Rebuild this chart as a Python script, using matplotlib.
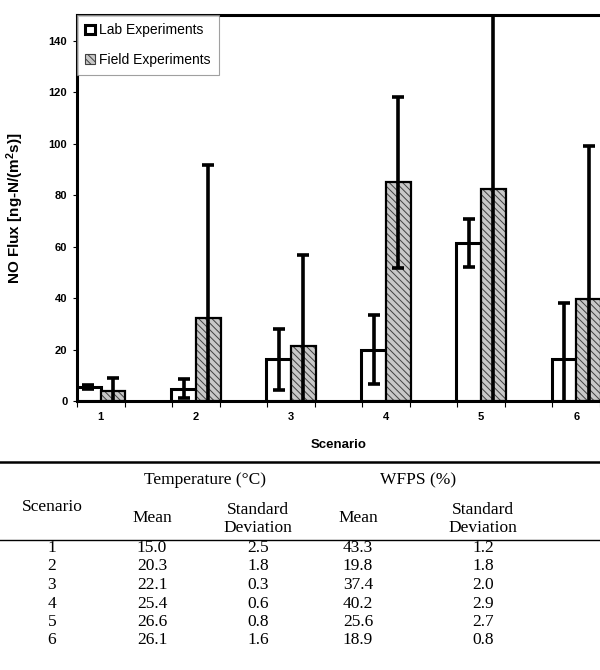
"""NO flux by scenario (lab vs field) with the scenario condition table below."""

import matplotlib
matplotlib.use("Agg")
import matplotlib.pyplot as plt
import numpy as np
from matplotlib.patches import Patch

# bar chart data
scenarios = [1, 2, 3, 4, 5, 6]
lab_flux = [5.3, 4.8, 16.2, 20.0, 61.4, 16.3]
lab_err = [0.8, 3.7, 11.9, 13.3, 9.5, 21.6]
field_flux = [4.0, 32.3, 21.4, 85.0, 82.2, 39.8]
field_err = [5.0, 59.4, 35.2, 33.2, 85.0, 59.2]

# table data
temp_mean = [15.0, 20.3, 22.1, 25.4, 26.6, 26.1]
temp_sd = [2.5, 1.8, 0.3, 0.6, 0.8, 1.6]
wfps_mean = [43.3, 19.8, 37.4, 40.2, 25.6, 18.9]
wfps_sd = [1.2, 1.8, 2.0, 2.9, 2.7, 0.8]

SANS = "Liberation Sans"
SERIF = "Liberation Serif"
FIELD_FILL = "#c8c8c8"
HATCH_COL = "#404040"

plt.rcParams.update({
    "font.family": SANS,
    "mathtext.fontset": "custom",
    "mathtext.bf": "Liberation Sans:bold",
    "mathtext.rm": "Liberation Sans",
    "hatch.linewidth": 0.7,
})

W, H = 600, 670
fig = plt.figure(figsize=(W / 100, H / 100), dpi=100)

# ---- chart ----
ax = fig.add_axes([77 / W, 1 - 401 / H, (W - 77) / W, (401 - 15) / H])
x = np.array(scenarios)
w = 0.26

ax.bar(x - w / 2, lab_flux, w, color="white", edgecolor="black", linewidth=2.2, zorder=2)
ax.bar(x + w / 2, field_flux, w, color=FIELD_FILL, edgecolor=HATCH_COL,
       hatch="\\\\\\\\\\", linewidth=0, zorder=2)
ax.bar(x + w / 2, field_flux, w, fill=False, edgecolor="black", linewidth=1.6, zorder=2)

ax.errorbar(x - w / 2, lab_flux, yerr=lab_err, fmt="none", ecolor="black",
            elinewidth=2.6, capsize=4.5, capthick=2.6, zorder=3)
ax.errorbar(x + w / 2, field_flux, yerr=field_err, fmt="none", ecolor="black",
            elinewidth=2.6, capsize=4.5, capthick=2.6, zorder=3)

ax.set_xlim(0.76, 6.23)
ax.set_ylim(0, 150)
ax.set_yticks(np.arange(0, 141, 20))
ax.set_xticks(scenarios)
ax.set_xticklabels([str(s) for s in scenarios])
ax.set_xticks(np.arange(0.75, 6.3, 0.5), minor=True)
ax.tick_params(axis="x", which="major", length=0, pad=8, labelsize=8)
ax.tick_params(axis="x", which="minor", length=4, width=0.8, direction="out")
ax.tick_params(axis="y", length=3, width=0.8, labelsize=8, pad=4)
for lab in ax.get_xticklabels() + ax.get_yticklabels():
    lab.set_fontweight("bold")

for side in ("left", "bottom", "top"):
    ax.spines[side].set_linewidth(2.2)
ax.spines["right"].set_visible(False)

ax.set_xlabel("Scenario", fontsize=9.5, fontweight="bold", labelpad=12)
ax.set_ylabel("NO Flux [ng-N/(m$\\mathbf{^2}$s)]", fontsize=11, fontweight="bold", labelpad=16)

handles = [
    Patch(facecolor="white", edgecolor="black", linewidth=2.2, label="Lab Experiments"),
    Patch(facecolor=FIELD_FILL, edgecolor=HATCH_COL, hatch="\\\\\\\\\\", linewidth=0.8,
          label="Field Experiments"),
]
leg = ax.legend(handles=handles, loc="upper left", bbox_to_anchor=(0, 1),
                borderaxespad=0, fontsize=10, frameon=True, fancybox=False,
                handlelength=0.7, handleheight=0.7, handletextpad=0.3,
                labelspacing=1.1, borderpad=0.6)
leg.get_frame().set_edgecolor("#888888")
leg.get_frame().set_linewidth(0.8)

# ---- table ----
tx = fig.add_axes([0, 0, 1, (H - 452) / H])
tx.set_xlim(0, W)
tx.set_ylim(H, 452)
tx.axis("off")

tx.plot([0, W], [462, 462], color="black", lw=1.8)
tx.plot([0, W], [540, 540], color="black", lw=1.0)

fs = 12.5
col_x = [52, 152, 258, 358, 483]
tx.text(205, 480, "Temperature (°C)", ha="center", va="center", fontsize=fs, family=SERIF)
tx.text(418, 480, "WFPS (%)", ha="center", va="center", fontsize=fs, family=SERIF)
tx.text(col_x[0], 507, "Scenario", ha="center", va="center", fontsize=fs, family=SERIF)
for cx in (col_x[1], col_x[3]):
    tx.text(cx, 518, "Mean", ha="center", va="center", fontsize=fs, family=SERIF)
for cx in (col_x[2], col_x[4]):
    tx.text(cx, 519, "Standard\nDeviation", ha="center", va="center", fontsize=fs,
            family=SERIF, linespacing=1.1)

row_y = 548
for i, s in enumerate(scenarios):
    yy = row_y + i * 18.5
    vals = [str(s), f"{temp_mean[i]:.1f}", f"{temp_sd[i]:.1f}",
            f"{wfps_mean[i]:.1f}", f"{wfps_sd[i]:.1f}"]
    for cx, v in zip(col_x, vals):
        tx.text(cx, yy, v, ha="center", va="center", fontsize=fs, family=SERIF)

fig.savefig("out.png", dpi=100)
